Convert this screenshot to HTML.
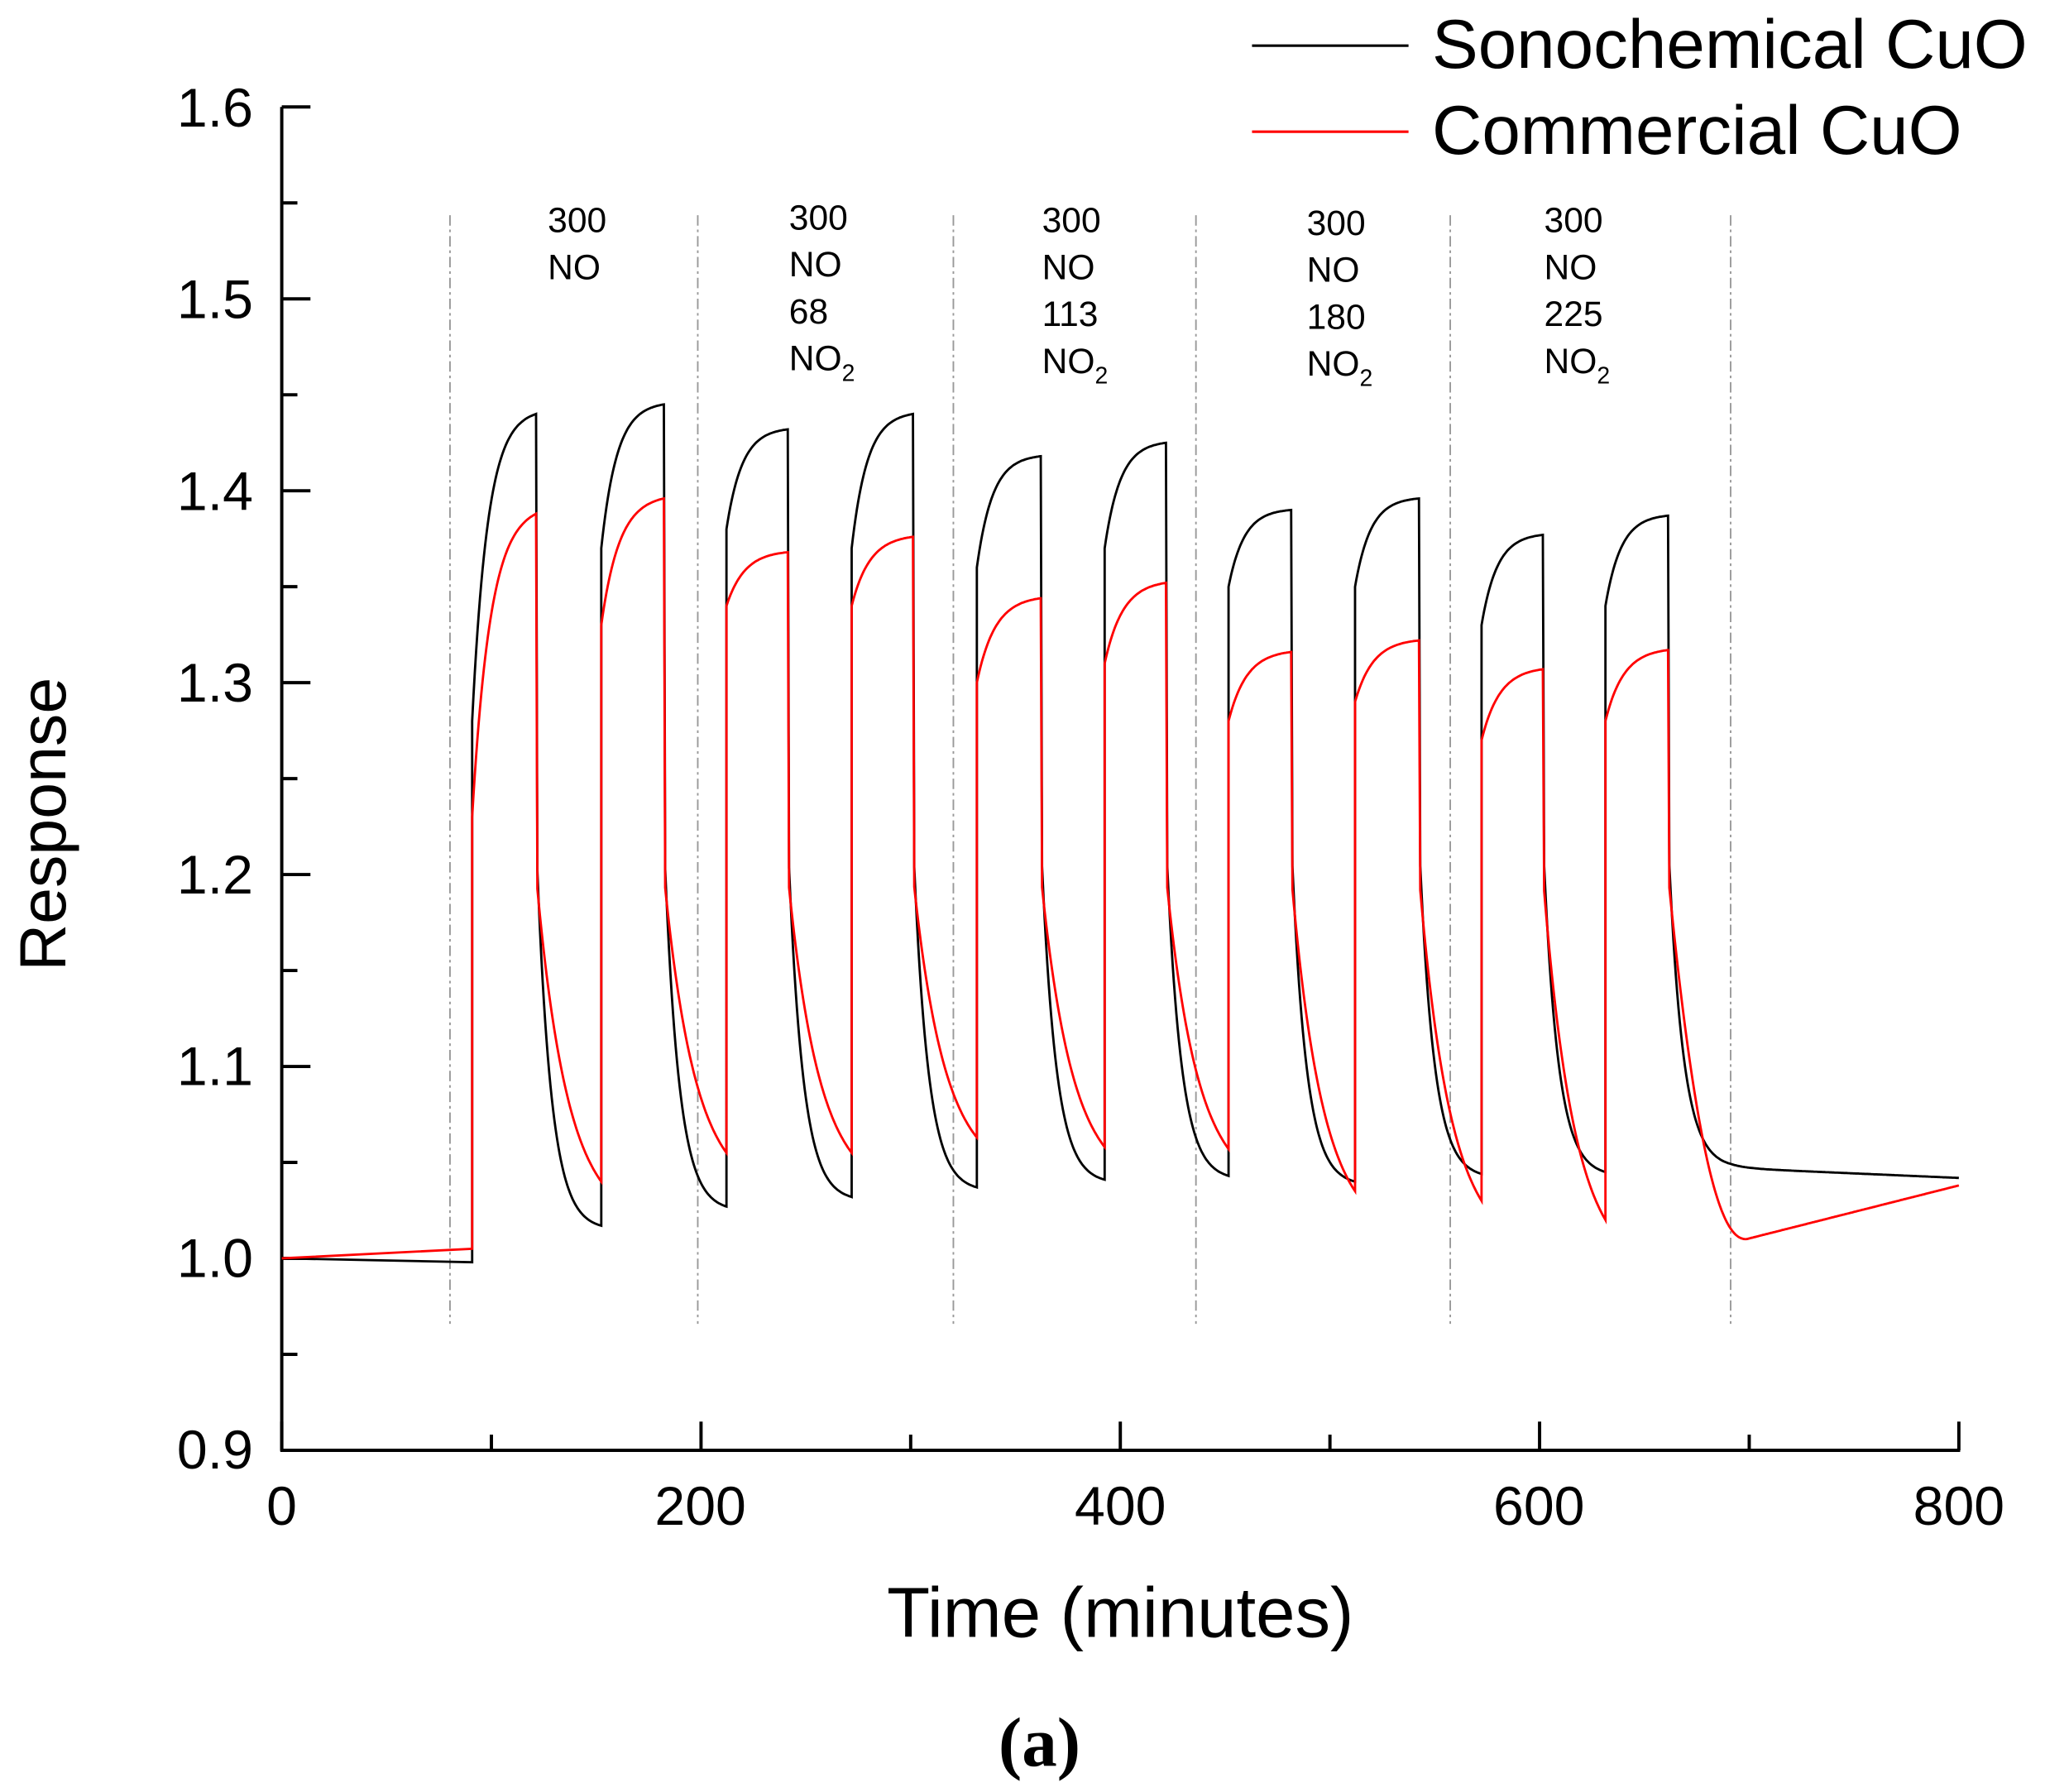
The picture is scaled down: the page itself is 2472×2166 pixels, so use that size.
<!DOCTYPE html>
<html><head><meta charset="utf-8"><style>
html,body{margin:0;padding:0;background:#fff;}
svg{display:block;}
text{font-family:"Liberation Sans",Arial,sans-serif;fill:#000;}
</style></head><body>
<svg id="s" width="2472" height="2166" viewBox="0 0 1568 1374" xmlns="http://www.w3.org/2000/svg">
<rect width="1568" height="1374" fill="#fff"/>
<g stroke="#999" stroke-width="1.2" stroke-dasharray="8,3,2,3">
<line x1="345" y1="165" x2="345" y2="1015"/><line x1="535" y1="165" x2="535" y2="1015"/>
<line x1="731" y1="165" x2="731" y2="1015"/><line x1="917" y1="165" x2="917" y2="1015"/>
<line x1="1112" y1="165" x2="1112" y2="1015"/><line x1="1327" y1="165" x2="1327" y2="1015"/>
</g>
<g id="axes" stroke="#000" stroke-width="2.5" fill="none">
<line x1="216" y1="82" x2="216" y2="1113"/><line x1="215" y1="1112" x2="1503" y2="1112"/>
</g>
<g font-size="42" text-anchor="end">
<text x="194" y="97">1.6</text><text x="194" y="244">1.5</text><text x="194" y="391">1.4</text>
<text x="194" y="538">1.3</text><text x="194" y="685">1.2</text><text x="194" y="832">1.1</text>
<text x="194" y="979">1.0</text><text x="194" y="1126">0.9</text>
</g>
<g font-size="42" text-anchor="middle">
<text x="216" y="1169">0</text><text x="537" y="1169">200</text><text x="859" y="1169">400</text>
<text x="1180" y="1169">600</text><text x="1502" y="1169">800</text>
</g>
<text x="859" y="1255" font-size="54" text-anchor="middle">Time (minutes)</text>
<text transform="translate(50,632) rotate(-90)" font-size="50" text-anchor="middle">Response</text>
<text x="797" y="1354" font-size="54" font-weight="bold" text-anchor="middle" style="font-family:'Liberation Serif',serif">(a)</text>
<g font-size="27">
<text x="420" y="178">300</text><text x="420" y="214">NO</text>
<text x="605" y="176">300</text><text x="605" y="212">NO</text><text x="605" y="248">68</text><text x="605" y="284">NO<tspan font-size="18" dy="8">2</tspan></text>
<text x="799" y="178">300</text><text x="799" y="214">NO</text><text x="799" y="250">113</text><text x="799" y="286">NO<tspan font-size="18" dy="8">2</tspan></text>
<text x="1002" y="180">300</text><text x="1002" y="216">NO</text><text x="1002" y="252">180</text><text x="1002" y="288">NO<tspan font-size="18" dy="8">2</tspan></text>
<text x="1184" y="178">300</text><text x="1184" y="214">NO</text><text x="1184" y="250">225</text><text x="1184" y="286">NO<tspan font-size="18" dy="8">2</tspan></text>
</g>
<line x1="960" y1="35" x2="1080" y2="35" stroke="#000" stroke-width="2"/>
<line x1="960" y1="101" x2="1080" y2="101" stroke="#f00" stroke-width="2"/>
<text x="1098" y="52" font-size="53">Sonochemical CuO</text>
<text x="1098" y="118" font-size="53">Commercial CuO</text>
<path id="pb" fill="none" stroke="#000" stroke-width="1.8"/>
<path id="pr" fill="none" stroke="#f00" stroke-width="1.8"/>
</svg>
<script>
var Y=function(v){return 82+(1.6-v)*1471.4;};
var g=document.getElementById('axes');
function tk(x1,y1,x2,y2){var l=document.createElementNS('http://www.w3.org/2000/svg','line');l.setAttribute('x1',x1);l.setAttribute('y1',y1);l.setAttribute('x2',x2);l.setAttribute('y2',y2);g.appendChild(l);}
for(var i=0;i<=14;i++){var y=82+i*73.57;tk(216,y,i%2?228:238,y);}
for(var i=0;i<=8;i++){var x=216+i*160.75;tk(x,1112,x,i%2?1100:1090);}
var on=[362,461,557,653,749,847,942,1039,1136,1231],off=[411,509,604,700,798,894,990,1088,1183,1279];
function build(pk,st,mn,drop,tau,tau2,tail){
 var d='M216 '+Y(1.0).toFixed(1);var base=tail.base;
 d+=' L362 '+Y(base).toFixed(1);
 for(var c=0;c<10;c++){
  var t0=on[c],t1=off[c],nx=c<9?on[c+1]:1502;
  d+=' L'+t0+' '+Y(st[c]).toFixed(1);
  var E=1-Math.exp(-(t1-t0)/tau);
  for(var x=t0;x<=t1;x+=1){var v=st[c]+(pk[c]-st[c])*(1-Math.exp(-(x-t0)/tau))/E;d+=' L'+x+' '+Y(v).toFixed(1);}
  var lo=mn[c];
  if(c<9){
   var E2=Math.exp(-(nx-t1)/tau2);
   for(var x=t1+1;x<=nx;x+=1){var v=lo+(drop-lo)*(Math.exp(-(x-t1)/tau2)-E2)/(1-E2);d+=' L'+x+' '+Y(v).toFixed(1);}
  } else {
   for(var x=t1+1;x<=1502;x+=1){var v=tail.f(x-t1,drop);d+=' L'+x+' '+Y(v).toFixed(1);}
  }
 }
 return d;
}
var pb=[1.44,1.445,1.432,1.44,1.418,1.425,1.39,1.396,1.377,1.387],
    sb=[1.28,1.37,1.38,1.37,1.36,1.37,1.35,1.35,1.33,1.34],
    mb=[1.017,1.027,1.032,1.037,1.041,1.043,1.04,1.044,1.045,1.047];
var pr=[1.388,1.396,1.368,1.376,1.344,1.352,1.316,1.322,1.307,1.317],
    sr=[1.23,1.33,1.34,1.34,1.30,1.31,1.28,1.29,1.27,1.28],
    mr=[1.04,1.055,1.055,1.063,1.058,1.057,1.035,1.03,1.02,1.0];
document.getElementById('pb').setAttribute('d',build(pb,sb,mb,1.22,12,11,{base:0.998,f:function(t,d){var v=1.047+(d-1.047)*Math.exp(-t/11);if(t>50)v-=(t-50)*0.005/170;return v;}}));
document.getElementById('pr').setAttribute('d',build(pr,sr,mr,1.2,14,24,{base:1.005,f:function(t){if(t<=60){var u=t/60;return 1.2-(1.2-1.01)*(1-Math.pow(1-u,2.2))*1.0;}var v=1.01+(t-60)*0.028/163;return v;}}));
</script>
</body></html>
